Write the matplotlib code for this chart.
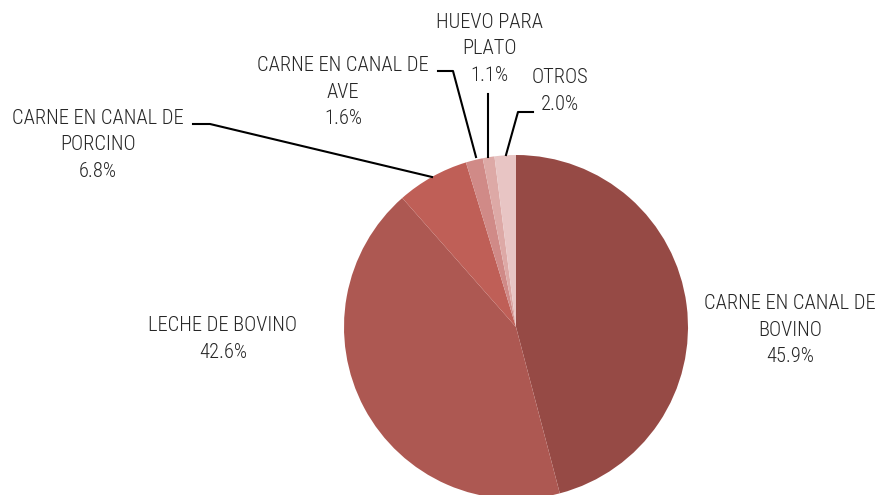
import matplotlib
matplotlib.use("Agg")
import matplotlib.pyplot as plt

plt.rcParams['font.family'] = ['Roboto Condensed', 'DejaVu Sans']

categories = ["CARNE EN CANAL DE\nBOVINO", "LECHE DE BOVINO", "CARNE EN CANAL DE\nPORCINO",
              "CARNE EN CANAL DE\nAVE", "HUEVO PARA\nPLATO", "OTROS"]
values = [45.9, 42.6, 6.8, 1.6, 1.1, 2.0]
colors = ["#964A45", "#AD5852", "#BF5F57", "#D08A87", "#DDA9A6", "#E8C5C4"]

W, H = 881, 495
fig = plt.figure(figsize=(W / 100, H / 100), dpi=100)
cx, cy, R = 516, 327, 172
ax = fig.add_axes([(cx - R) / W, (H - cy - R) / H, 2 * R / W, 2 * R / H])
ax.pie(values, colors=colors, startangle=90, counterclock=False, radius=1,
       wedgeprops=dict(linewidth=0))
ax.set_xlim(-1, 1)
ax.set_ylim(-1, 1)
ax.set_aspect('equal')
ax.axis('off')

def d(px, py):
    return ((px - cx) / R, (cy - py) / R)

label_pos = [(790, 330), (223, 339), (98, 145), (343, 92), (489, 49), (560, 91)]
for lab, v, (px, py) in zip(categories, values, label_pos):
    x, y = d(px, py)
    ax.text(x, y, f"{lab}\n{v:.1f}%", ha='center', va='center', fontsize=14.8,
            fontweight='light', color='#262626', linespacing=1.5, clip_on=False)

leaders = [
    [(193, 124), (210, 124), (432, 177)],
    [(438, 71), (453, 71), (476, 157)],
    [(488, 94), (488, 157)],
    [(533, 112), (518, 112), (506, 155)],
]
for pts in leaders:
    xs, ys = zip(*[d(*p) for p in pts])
    ax.plot(xs, ys, color='black', lw=1.5, clip_on=False)

fig.savefig("out.png", dpi=100)
